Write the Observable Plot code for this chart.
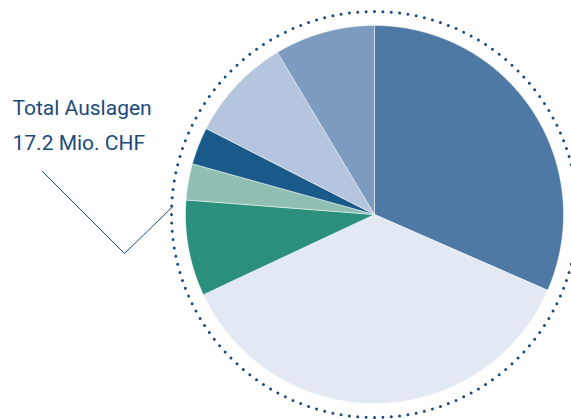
<!DOCTYPE html>
<html><head><meta charset="utf-8">
<script src="https://cdn.jsdelivr.net/npm/d3@7"></script>
<script src="https://cdn.jsdelivr.net/npm/@observablehq/plot@0.6"></script>
<style>body{margin:0;background:#fff}</style>
</head><body><div id="chart"></div>
<script>
// Data (shares of total expenses, %), clockwise from 12 o'clock
const categories = ["Posten 1","Posten 2","Posten 3","Posten 4","Posten 5","Posten 6","Posten 7"];
const shares = [31.6, 36.5, 8.2, 3.1, 3.2, 8.9, 8.6];
const colors = ["#4d79a4","#e2e9f2","#2a8f7b","#8fbfb3","#1a5a8a","#b4c5dd","#7c9bbe"];
const labelLines = ["Total Auslagen","17.2 Mio. CHF"];

// Layout
const W = 571, H = 419;
const cx = 374, cy = 214, R = 189, Rd = 203;
const ink = "#1b4b7b";

const total = d3.sum(shares);
const pt = (r, a) => ({x: cx + r * Math.sin(a), y: cy - r * Math.cos(a)});

// slice polygons
const slicePts = [];
let acc = 0;
shares.forEach((v, i) => {
  const a0 = acc / total * 2 * Math.PI;
  acc += v;
  const a1 = acc / total * 2 * Math.PI;
  const n = Math.max(2, Math.ceil((a1 - a0) / (Math.PI / 360)));
  slicePts.push({...pt(0, 0), cat: categories[i]});
  for (let k = 0; k <= n; k++) slicePts.push({...pt(R, a0 + (a1 - a0) * k / n), cat: categories[i]});
  slicePts.push({...pt(0, 0), cat: categories[i]});
});

// dotted ring
const ring = d3.range(0, 721).map(k => pt(Rd, k / 720 * 2 * Math.PI));
const nDots = 152;
const gap = 2 * Math.PI * Rd / nDots;

// leader line (annotation)
const leaderAngle = -87.8 * Math.PI / 180;
const leader = [{x: 42, y: 171}, {x: 124, y: 253}, pt(Rd - 1, leaderAngle)];

const chart = Plot.plot({
  width: W, height: H, margin: 0,
  style: {fontFamily: "Roboto, sans-serif", background: "#fff"},
  x: {domain: [0, W], axis: null},
  y: {domain: [0, H], reverse: true, axis: null},
  color: {domain: categories, range: colors},
  marks: [
    Plot.line(slicePts, {x: "x", y: "y", z: "cat", fill: "cat", stroke: "#fff", strokeWidth: 0.6, strokeOpacity: 0.8}),
    Plot.line(ring, {x: "x", y: "y", stroke: ink, strokeWidth: 3, strokeLinecap: "round", strokeDasharray: `0 ${gap}`}),
    Plot.line(leader, {x: "x", y: "y", stroke: ink, strokeWidth: 1}),
    Plot.text(labelLines, {x: () => 12, y: (d, i) => 114 + i * 35, text: d => d, textAnchor: "start", lineAnchor: "bottom", fontSize: 21, fontWeight: 400, fill: ink})
  ]
});
document.getElementById("chart").append(chart);
</script>
</body></html>
